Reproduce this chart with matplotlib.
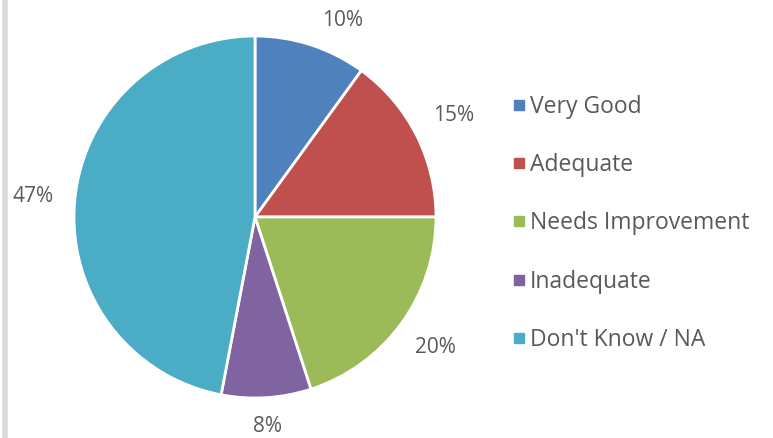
import matplotlib.pyplot as plt
from matplotlib.lines import Line2D

categories = ['Very Good', 'Adequate', 'Needs Improvement', 'Inadequate', "Don't Know / NA"]
values = [10, 15, 20, 8, 47]
colors = ['#4F81BD', '#C0504D', '#9BBB59', '#8064A2', '#4BACC6']

plt.rcParams['font.family'] = ['Open Sans', 'DejaVu Sans']

fig = plt.figure(figsize=(7.73, 4.38), dpi=100)
ax = fig.add_axes([0, 0, 1, 1])
ax.set_xlim(0, 773)
ax.set_ylim(0, 438)
ax.set_aspect('equal')
ax.axis('off')

# light grey frame line on the left
ax.axvline(5, color='#d9d9d9', lw=4)

wedges, texts, autotexts = ax.pie(
    values, colors=colors, startangle=90, counterclock=False,
    center=(255, 221), radius=181,
    autopct='%d%%', pctdistance=1.23,
    wedgeprops=dict(edgecolor='white', linewidth=2),
    textprops=dict(color='#595959', fontsize=15))
ax.set_xlim(0, 773)
ax.set_ylim(0, 438)

# nudge the top and bottom labels like the original
autotexts[0].set_position((343, 417))
autotexts[3].set_position((268, 11))

handles = [Line2D([], [], marker='s', linestyle='none', markersize=7,
                  color=c) for c in colors]
leg = ax.legend(handles, categories, loc='upper left',
                bbox_to_anchor=(490 / 773, 1 - 74 / 438), frameon=False,
                fontsize=16.5, labelspacing=1.5, handletextpad=0.15,
                handlelength=0.7, labelcolor='#595959')

fig.savefig('out.png', dpi=100)
